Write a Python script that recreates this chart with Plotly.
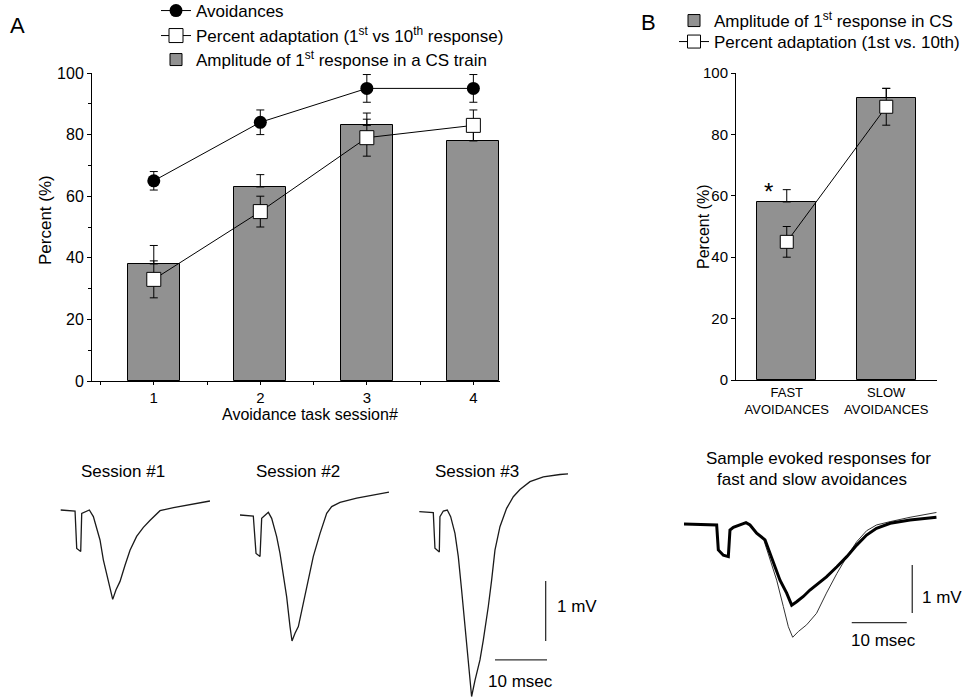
import plotly.graph_objects as go

W, H = 965, 698
FONT = "Liberation Sans, Arial, sans-serif"

# ---------------- Panel A data ----------------
sessions = [1, 2, 3, 4]
amp_first = [38, 63, 83, 78]
amp_first_err = [6, 4, 4, 4]
avoid = [65, 84, 95, 95]
avoid_err = [3, 4, 4.5, 4.5]
adapt = [33, 55, 79, 83]
adapt_err = [6, 5, 6, 5]

# ---------------- Panel B data ----------------
groups = [0, 1]
group_labels = ["FAST<br>AVOIDANCES", "SLOW<br>AVOIDANCES"]
amp_b = [58, 92]
amp_b_err = [4, 3]
adapt_b = [45, 89]
adapt_b_err = [5, 6]

# ---------------- Waveforms (ms, mV) ----------------
s1_t = [0, 2.76, 3.08, 3.85, 4.04, 4.68, 5.51, 6.28, 6.92, 7.56, 8.2, 8.85, 9.49, 10.0,
        10.64, 11.41, 12.37, 13.33, 14.6, 15.9, 17.2, 19.1, 21.7, 24.9, 28.7]
s1_v = [0, -0.017, -0.64, -0.69, -0.056, -0.028, 0, -0.11, -0.33, -0.5, -0.83, -1.08, -1.28, -1.49,
        -1.33, -1.19, -0.92, -0.67, -0.44, -0.29, -0.17, -0.011, 0.04, 0.094, 0.15]

s2_t = [0, 2.56, 3.08, 3.85, 4.17, 4.81, 5.45, 6.09, 7.05, 7.69, 8.33, 8.97, 9.62, 10.0,
        10.58, 11.22, 12.18, 13.14, 14.1, 15.38, 16.67, 17.63, 19.23, 22.44, 25.64, 28.65]
s2_v = [0, -0.017, -0.64, -0.69, -0.056, 0, 0.044, -0.056, -0.36, -0.64, -0.97, -1.36, -1.86, -2.1,
        -1.97, -1.86, -1.47, -1.08, -0.69, -0.31, 0.028, 0.14, 0.21, 0.28, 0.33, 0.38]

s3_t = [0, 2.69, 3.01, 3.85, 3.97, 4.62, 5.38, 6.03, 6.86, 7.5, 8.14, 8.78, 9.29, 9.74, 10.06,
        10.71, 11.67, 12.31, 12.95, 13.27, 13.91, 14.55, 15.51, 16.79, 18.08, 19.36, 21.28, 23.85, 27.05, 28.6]
s3_v = [0, -0.017, -0.61, -0.67, -0.083, 0.011, 0.028, -0.083, -0.36, -0.75, -1.31, -1.92, -2.42, -2.86, -3.08,
        -2.81, -2.47, -2.14, -1.81, -1.58, -1.14, -0.64, -0.25, 0.056, 0.25, 0.37, 0.5, 0.58, 0.62, 0.63]

slow_t = [0, 5.94, 6.24, 7.15, 8.06, 8.36, 8.97, 10.18, 11.27, 12.0, 13.21, 14.73, 15.64, 16.55, 17.45,
          18.67, 19.58, 20.48, 21.7, 22.9, 24.4, 25.9, 27.8, 29.6, 31.4, 33.2, 35.0, 37.5, 41.1, 45.9]
slow_v = [0, -0.02, -0.54, -0.65, -0.68, -0.125, -0.07, -0.02, 0.028, -0.02, -0.19, -0.33, -0.61, -0.89, -1.17,
          -1.44, -1.69, -1.62, -1.51, -1.375, -1.24, -1.1, -0.89, -0.68, -0.44, -0.23, -0.09, 0.014, 0.083, 0.14]

fast_t = [0, 5.94, 6.24, 7.15, 8.06, 8.36, 8.97, 10.18, 11.27, 12.0, 13.21, 14.42, 15.64, 16.85, 18.06,
          18.97, 19.76, 20.79, 22.3, 24.1, 25.9, 27.8, 29.6, 31.4, 33.2, 35.0, 37.5, 41.1, 45.9]
fast_v = [0, -0.02, -0.54, -0.65, -0.68, -0.125, -0.07, -0.02, 0.028, -0.02, -0.19, -0.30, -0.75, -1.17, -1.72,
          -2.14, -2.36, -2.24, -2.1, -1.86, -1.44, -1.03, -0.68, -0.37, -0.14, -0.02, 0.05, 0.14, 0.24]

fig = go.Figure()

def px_x(p):
    return p / W

def px_y(p):
    return 1 - p / H

# ---------- Panel A traces ----------
fig.add_trace(go.Bar(
    x=sessions, y=amp_first, width=0.49, xaxis="x", yaxis="y",
    marker=dict(color="#919191", line=dict(color="black", width=1)),
    error_y=dict(type="data", array=amp_first_err, arrayminus=[0] * 4, symmetric=False,
                 color="black", thickness=1, width=4),
    name="Amplitude of 1<sup>st</sup> response in a CS train", legend="legend3",
))
fig.add_trace(go.Scatter(
    x=sessions, y=avoid, mode="lines+markers", xaxis="x", yaxis="y",
    line=dict(color="black", width=1),
    marker=dict(symbol="circle", size=13, color="black"),
    error_y=dict(type="data", array=avoid_err, color="black", thickness=1, width=4),
    name="Avoidances", legend="legend", cliponaxis=False,
))
fig.add_trace(go.Scatter(
    x=sessions, y=adapt, mode="lines+markers", xaxis="x", yaxis="y",
    line=dict(color="black", width=1),
    marker=dict(symbol="square", size=14, color="white", line=dict(color="black", width=1)),
    error_y=dict(type="data", array=adapt_err, color="black", thickness=1, width=4),
    name="Percent adaptation (1<sup>st</sup> vs 10<sup>th</sup> response)", legend="legend2",
    cliponaxis=False,
))

# ---------- Panel B traces ----------
fig.add_trace(go.Bar(
    x=groups, y=amp_b, width=0.59, xaxis="x2", yaxis="y2",
    marker=dict(color="#919191", line=dict(color="black", width=1)),
    error_y=dict(type="data", array=amp_b_err, arrayminus=[0, 0], symmetric=False,
                 color="black", thickness=1, width=4),
    name="Amplitude of 1<sup>st</sup> response in CS", legend="legend4",
))
fig.add_trace(go.Scatter(
    x=groups, y=adapt_b, mode="lines+markers", xaxis="x2", yaxis="y2",
    line=dict(color="black", width=1),
    marker=dict(symbol="square", size=13, color="white", line=dict(color="black", width=1)),
    error_y=dict(type="data", array=adapt_b_err, color="black", thickness=1, width=4),
    name="Percent adaptation (1st vs. 10th)", legend="legend5", cliponaxis=False,
))

# ---------- Waveform traces ----------
wave_line = dict(color="#1a1a1a", width=1.3)
fig.add_trace(go.Scatter(x=s1_t, y=s1_v, mode="lines", line=wave_line, xaxis="x3", yaxis="y3", showlegend=False))
fig.add_trace(go.Scatter(x=s2_t, y=s2_v, mode="lines", line=wave_line, xaxis="x4", yaxis="y4", showlegend=False))
fig.add_trace(go.Scatter(x=s3_t, y=s3_v, mode="lines", line=wave_line, xaxis="x5", yaxis="y5", showlegend=False,
                         cliponaxis=False))
fig.add_trace(go.Scatter(x=fast_t, y=fast_v, mode="lines", line=dict(color="#333333", width=1),
                         xaxis="x6", yaxis="y6", showlegend=False))
fig.add_trace(go.Scatter(x=slow_t, y=slow_v, mode="lines", line=dict(color="black", width=3),
                         xaxis="x6", yaxis="y6", showlegend=False))

# ---------- Axes layout ----------
axis_common = dict(showgrid=False, zeroline=False, showline=True, linecolor="black", linewidth=1,
                   ticks="outside", tickcolor="black", ticklen=4, tickwidth=1,
                   tickfont=dict(family=FONT, size=16, color="black"))

layout = dict(
    width=W, height=H, margin=dict(l=0, r=0, t=0, b=0, autoexpand=False),
    paper_bgcolor="white", plot_bgcolor="rgba(0,0,0,0)",
    font=dict(family=FONT, color="black"),
    bargap=0,
    xaxis=dict(axis_common, domain=[px_x(92), px_x(500)], range=[0.42, 4.25], anchor="y",
               tickmode="array", tickvals=sessions, ticklen=3,
               tickfont=dict(family=FONT, size=15, color="black"),
               minor=dict(tickvals=[0.5, 1.5, 2.5, 3.5], ticks="outside", ticklen=3, tickcolor="black")),
    yaxis=dict(axis_common, domain=[px_y(381), px_y(73)], range=[0, 100], anchor="x",
               tickmode="linear", tick0=0, dtick=20,
               minor=dict(tickmode="linear", tick0=0, dtick=10, ticks="outside", ticklen=3, tickcolor="black")),
    xaxis2=dict(axis_common, domain=[px_x(736), px_x(937)], range=[-0.51, 1.51], anchor="y2",
                tickmode="array", tickvals=groups, ticktext=group_labels, ticks="",
                tickfont=dict(family=FONT, size=13, color="black")),
    yaxis2=dict(axis_common, domain=[px_y(380), px_y(73)], range=[0, 100], anchor="x2",
                tickmode="linear", tick0=0, dtick=20,
                tickfont=dict(family=FONT, size=15, color="black")),
)

def wave_axes(origin, pxms, pxmv, box):
    ox, oy = origin
    x0, x1, y0, y1 = box
    xa = dict(visible=False, domain=[px_x(x0), px_x(x1)],
              range=[(x0 - ox) / pxms, (x1 - ox) / pxms], fixedrange=True)
    ya = dict(visible=False, domain=[px_y(y1), px_y(y0)],
              range=[-(y1 - oy) / pxmv, -(y0 - oy) / pxmv], fixedrange=True)
    return xa, ya

waves = [
    ((60.7, 510.0), 5.2, 60.0, (40, 225, 440, 698)),
    ((240.0, 515.0), 5.2, 60.0, (225, 405, 440, 698)),
    ((419.3, 511.7), 5.2, 60.0, (405, 640, 440, 698)),
    ((684.0, 524.0), 5.5, 48.0, (670, 965, 440, 698)),
]
for i, (o, pm, pv, b) in enumerate(waves):
    n = i + 3
    xa, ya = wave_axes(o, pm, pv, b)
    xa["anchor"] = f"y{n}"
    ya["anchor"] = f"x{n}"
    layout[f"xaxis{n}"] = xa
    layout[f"yaxis{n}"] = ya

# ---------- Legends ----------
def leg(xpx, ypx, size=17):
    return dict(x=px_x(xpx), y=px_y(ypx), xanchor="left", yanchor="middle",
                xref="paper", yref="paper", bgcolor="rgba(0,0,0,0)", borderwidth=0,
                font=dict(family=FONT, size=size, color="black"), itemclick=False)

layout["legend"] = leg(156, 11)
layout["legend2"] = leg(156, 36)
layout["legend3"] = leg(156, 60)
layout["legend4"] = leg(674, 21)
layout["legend5"] = leg(674, 42)

fig.update_layout(**layout)

# ---------- Scale bars (in waveform axes units) ----------
bar_line = dict(color="#333333", width=1.3)
fig.add_shape(type="line", xref="x5", yref="y5", x0=24.3, x1=24.3, y0=-1.155, y1=-2.155, line=bar_line)
fig.add_shape(type="line", xref="x5", yref="y5", x0=14.56, x1=24.56, y0=-2.47, y1=-2.47, line=bar_line)
fig.add_shape(type="line", xref="x6", yref="y6", x0=41.5, x1=41.5, y0=-0.854, y1=-1.854, line=bar_line)
fig.add_shape(type="line", xref="x6", yref="y6", x0=30.5, x1=40.5, y0=-2.056, y1=-2.056, line=bar_line)

# ---------- Text annotations ----------
def txt(text, xpx, ypx, size=17, xanchor="center", angle=0):
    fig.add_annotation(text=text, x=px_x(xpx), y=px_y(ypx), xref="paper", yref="paper",
                       showarrow=False, xanchor=xanchor, yanchor="middle", textangle=angle,
                       font=dict(family=FONT, size=size, color="black"))

txt("A", 17, 25, size=22)
txt("B", 648, 22, size=22)
txt("Percent (%)", 45, 220, angle=-90)
txt("Avoidance task session#", 310, 414, size=16)
txt("Percent (%)", 703, 227, size=16, angle=-90)
fig.add_annotation(text="*", x=-0.18, y=56.5, xref="x2", yref="y2", showarrow=False,
                   yanchor="bottom", font=dict(family=FONT, size=24, color="black"))

txt("Session #1", 123, 471)
txt("Session #2", 298, 471)
txt("Session #3", 477, 471)
txt("Sample evoked responses for", 818, 458)
txt("fast and slow avoidances", 812, 480)
txt("1 mV", 555, 606, xanchor="left")
txt("10 msec", 520, 681)
txt("1 mV", 920, 597, xanchor="left")
txt("10 msec", 883, 640)

fig.write_html(
    "out.html",
    config={"displayModeBar": False},
    post_script="document.body.style.margin='0';document.body.style.overflow='hidden';",
)
